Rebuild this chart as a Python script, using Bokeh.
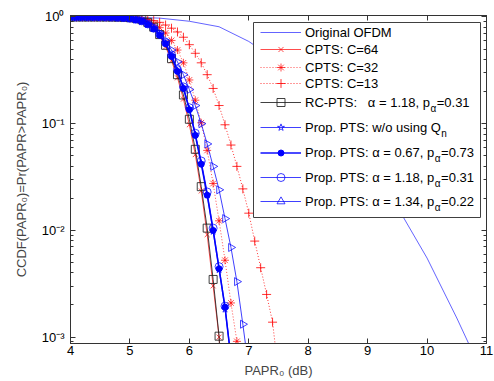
import numpy as np
from bokeh.plotting import figure
from bokeh.models import (Range1d, FixedTicker, LogAxis, LinearAxis, CustomJSTickFormatter,
                          Legend, LegendItem, BoxAnnotation, Label)
from bokeh.embed import file_html
from bokeh.resources import INLINE

FONT = "Liberation Sans"
AX = "#333333"

# ---------------- data ----------------
papr_db = [4.0, 4.1, 4.2, 4.3, 4.4, 4.5, 4.6, 4.7, 4.8, 4.9,
           5.0, 5.1, 5.2, 5.3, 5.4, 5.5, 5.6, 5.7, 5.8, 5.9,
           6.0, 6.1, 6.2, 6.3, 6.4, 6.5, 6.6, 6.7, 6.8, 6.9,
           7.0, 7.1, 7.2, 7.3, 7.4, 7.5]

ofdm_db = [4.0, 4.5, 5.0, 5.5, 6.0, 6.5, 7.0, 7.5, 8.0, 8.5, 9.0, 9.5, 10.0, 10.5, 10.8]
ofdm_ccdf = [1.0, 0.9995, 0.996, 0.976, 0.912, 0.81, 0.59, 0.38, 0.212, 0.104,
             0.0447, 0.0166, 0.0055, 0.00151, 0.00066]

cpts64 = [1.0, 1.0, 1.0, 1.0, 1.0, 1.0, 1.0, 0.999, 0.997, 0.994,
          0.984, 0.968, 0.938, 0.881, 0.794, 0.668, 0.525, 0.389, 0.269, 0.170,
          0.0977, 0.0513, 0.0234, 0.00912, 0.00302, 0.00100, 0.0001]
cpts32 = [1.0, 1.0, 1.0, 1.0, 1.0, 1.0, 1.0, 0.999, 0.998, 0.996,
          0.982, 0.966, 0.944, 0.912, 0.861, 0.794, 0.708, 0.603, 0.490, 0.372,
          0.257, 0.166, 0.102, 0.0562, 0.0275, 0.0123, 0.00525, 0.00209, 0.000912, 0.000316]
cpts13 = [1.0, 1.0, 1.0, 1.0, 1.0, 1.0, 1.0, 0.999, 0.997, 0.99,
          0.984, 0.977, 0.966, 0.950, 0.925, 0.891, 0.841, 0.785, 0.724, 0.646,
          0.550, 0.457, 0.372, 0.288, 0.214, 0.148, 0.0977, 0.0631, 0.0398, 0.0245,
          0.0145, 0.00794, 0.00447, 0.00251, 0.00138, 0.000457]
rc_pts = [1.0, 1.0, 1.0, 1.0, 1.0, 1.0, 1.0, 0.999, 0.998, 0.995,
          0.986, 0.973, 0.944, 0.891, 0.803, 0.684, 0.543, 0.407, 0.288, 0.186,
          0.110, 0.0575, 0.0257, 0.0105, 0.00347, 0.00102, 0.0001]
prop_noq = [1.0, 1.0, 1.0, 1.0, 1.0, 0.999, 0.998, 0.995, 0.99, 0.982,
            0.970, 0.946, 0.912, 0.855, 0.782, 0.684, 0.569, 0.437, 0.316, 0.219,
            0.138, 0.0794, 0.0427, 0.0214, 0.00977, 0.00427, 0.00182, 0.00063]
prop_067 = [1.0, 1.0, 1.0, 1.0, 1.0, 0.999, 0.998, 0.995, 0.99, 0.982,
            0.968, 0.944, 0.912, 0.851, 0.776, 0.676, 0.562, 0.427, 0.309, 0.214,
            0.135, 0.0776, 0.0417, 0.0214, 0.0100, 0.00437, 0.00191, 0.00063]
prop_118 = [1.0, 1.0, 1.0, 1.0, 1.0, 1.0, 0.999, 0.996, 0.992, 0.985,
            0.972, 0.951, 0.920, 0.861, 0.785, 0.687, 0.575, 0.441, 0.321, 0.221,
            0.141, 0.0813, 0.0447, 0.0229, 0.0105, 0.00457, 0.00195, 0.00066]
prop_134 = [1.0, 1.0, 1.0, 1.0, 1.0, 1.0, 0.999, 0.997, 0.994, 0.988,
            0.977, 0.955, 0.923, 0.871, 0.794, 0.708, 0.603, 0.490, 0.380, 0.288,
            0.209, 0.148, 0.100, 0.0646, 0.0398, 0.0240, 0.0129, 0.00692, 0.00331, 0.00132,
            0.0005]

x_ticks = [4, 5, 6, 7, 8, 9, 10, 11]
y_ticks = [0.001, 0.01, 0.1, 1]
y_minor = [k * 10.0 ** d for d in (-4, -3, -2, -1) for k in range(2, 10)]

# ---------------- figure ----------------
p = figure(width=494, height=381, y_axis_type="log",
           x_range=Range1d(4, 11), y_range=Range1d(10 ** -3.06, 10 ** 0.014),
           output_backend="svg", toolbar_location=None,
           min_border_left=70, min_border_right=8, min_border_top=15, min_border_bottom=38)
p.grid.visible = False
p.outline_line_color = AX
p.outline_line_width = 1
p.background_fill_color = "white"
p.border_fill_color = "white"


def style_axis(ax, show_labels=True):
    ax.axis_line_color = AX
    ax.major_tick_line_color = AX
    ax.minor_tick_line_color = AX
    ax.major_tick_in = 5
    ax.major_tick_out = 0
    ax.minor_tick_in = 3
    ax.minor_tick_out = 0
    ax.major_label_text_font = FONT
    ax.major_label_text_color = "black"
    if not show_labels:
        ax.major_label_text_font_size = "0px"
        ax.major_label_standoff = 0
        ax.formatter = CustomJSTickFormatter(code="return '';")


xa = p.xaxis[0]
xa.ticker = FixedTicker(ticks=x_ticks)
style_axis(xa)
xa.major_label_text_font_size = "13px"
xa.major_label_standoff = 2
xa.axis_label = "PAPR\u2080 (dB)"
xa.axis_label_text_font = FONT
xa.axis_label_text_font_size = "13px"
xa.axis_label_text_font_style = "normal"
xa.axis_label_standoff = 5

ya = p.yaxis[0]
ya.ticker = FixedTicker(ticks=y_ticks, minor_ticks=y_minor)
style_axis(ya)
ya.major_label_text_font_size = "13px"
ya.major_label_standoff = 6
ya.formatter = CustomJSTickFormatter(code="""
const sup = {"-": "\u207b", "0": "\u2070", "1": "\u00b9", "2": "\u00b2", "3": "\u00b3"};
const e = Math.round(Math.log10(tick));
return "10" + String(e).split("").map(c => sup[c]).join("");
""")
ya.axis_label = "CCDF(PAPR\u2080)=Pr(PAPR>PAPR\u2080)"
ya.axis_label_text_font = FONT
ya.axis_label_text_font_size = "13px"
ya.axis_label_text_font_style = "normal"
ya.axis_label_standoff = 10

top_ax = LinearAxis(ticker=FixedTicker(ticks=x_ticks))
style_axis(top_ax, show_labels=False)
p.add_layout(top_ax, "above")
right_ax = LogAxis(ticker=FixedTicker(ticks=y_ticks, minor_ticks=y_minor))
style_axis(right_ax, show_labels=False)
p.add_layout(right_ax, "right")

# ---------------- series ----------------
BLUE = "#0000ff"
RED = "#ff0000"


def series(vals, color, dash, marker, size, width=1.0, fill=None, angle=0.0, alpha=0.8):
    xs = papr_db[:len(vals)]
    ln = p.line(xs, vals, line_color=color, line_width=width, line_dash=dash, line_alpha=alpha)
    sc = p.scatter(xs, vals, marker=marker, size=size, line_color=color, line_alpha=alpha,
                   fill_color=fill, angle=angle, line_width=1)
    return [ln, sc]


r_ofdm = [p.line(ofdm_db, ofdm_ccdf, line_color="#3030ff", line_width=1, line_alpha=0.75)]
r64 = series(cpts64, RED, "solid", "x", 7, alpha=0.7)
r32 = series(cpts32, RED, "1 2", "asterisk", 8, alpha=0.7)
r13 = series(cpts13, RED, "1 2", "cross", 9, alpha=0.8)
rrc = series(rc_pts, "#202020", "solid", "square", 8, alpha=0.85)
rnoq = series(prop_noq, BLUE, "solid", "star", 7, alpha=0.75)
r067 = series(prop_067, BLUE, "solid", "circle", 6, width=1.5, fill=BLUE, alpha=0.95)
r118 = series(prop_118, BLUE, "solid", "circle", 8, alpha=0.75)
r134 = series(prop_134, BLUE, "solid", "triangle", 8, angle=-np.pi / 2, alpha=0.75)

# ---------------- legend ----------------
p.add_layout(BoxAnnotation(left=183, right=410, bottom=126, top=321,
                           left_units="screen", right_units="screen",
                           bottom_units="screen", top_units="screen",
                           fill_color="white", fill_alpha=1.0,
                           line_color="#404040", line_width=1, line_alpha=1.0))

# Arial / Liberation Sans advance widths (1/1000 em), used only to place sub-scripts
ADV = {" ": 278, "\u00a0": 278, "R": 722, "C": 722, "-": 333, "P": 667, "T": 611, "S": 667,
       ":": 278, "\u03b1": 578, "=": 584, ".": 278, ",": 278, "p": 556, "r": 333, "o": 556,
       "w": 722, "/": 278, "u": 556, "s": 500, "i": 222, "n": 556, "g": 556, "Q": 778,
       "0": 556, "1": 556, "2": 556, "3": 556, "4": 556, "6": 556, "7": 556, "8": 556}


def tw(s, size):
    return sum(ADV.get(c, 556) for c in s) * size / 1000.0


rows_y = [311, 294, 276, 260, 241, 216, 191, 166, 142]
entries = [
    ("Original OFDM", r_ofdm, 16, None, None),
    ("CPTS: C=64", r64, 18, None, None),
    ("CPTS: C=32", r32, 20, None, None),
    ("CPTS: C=13", r13, 22, None, None),
    ("RC-PTS: \u00a0\u00a0\u03b1 = 1.18, p", rrc, 20, "\u03b1", "=0.31"),
    ("Prop. PTS: w/o using Q", rnoq, 18, "n", None),
    ("Prop. PTS: \u03b1 = 0.67, p", r067, 15, "\u03b1", "=0.73"),
    ("Prop. PTS: \u03b1 = 1.18, p", r118, 20, "\u03b1", "=0.31"),
    ("Prop. PTS: \u03b1 = 1.34, p", r134, 20, "\u03b1", "=0.22"),
]
LEG_X = 190
GW = 41
STAND = 4
for (txt, rs, gh, sub, suf), ry in zip(entries, rows_y):
    lg = Legend(items=[LegendItem(label=txt, renderers=rs)],
                location=(LEG_X, ry - gh / 2), orientation="vertical",
                padding=0, margin=0, spacing=0, glyph_width=GW, glyph_height=gh,
                label_height=gh, label_standoff=STAND, label_text_font=FONT,
                label_text_font_size="13px", label_text_color="black",
                background_fill_alpha=0.0, border_line_color=None)
    p.add_layout(lg)
    if sub:
        x0 = LEG_X + GW + STAND + tw(txt, 13)
        p.add_layout(Label(x=x0, y=ry - 6, x_units="screen", y_units="screen", text=sub,
                           text_font=FONT, text_font_size="10px", text_baseline="middle",
                           text_color="black"))
        if suf:
            p.add_layout(Label(x=x0 + tw(sub, 10) + 0.5, y=ry, x_units="screen", y_units="screen",
                               text=suf, text_font=FONT, text_font_size="13px",
                               text_baseline="middle", text_color="black"))

open("out.html", "w").write(file_html(p, INLINE))
